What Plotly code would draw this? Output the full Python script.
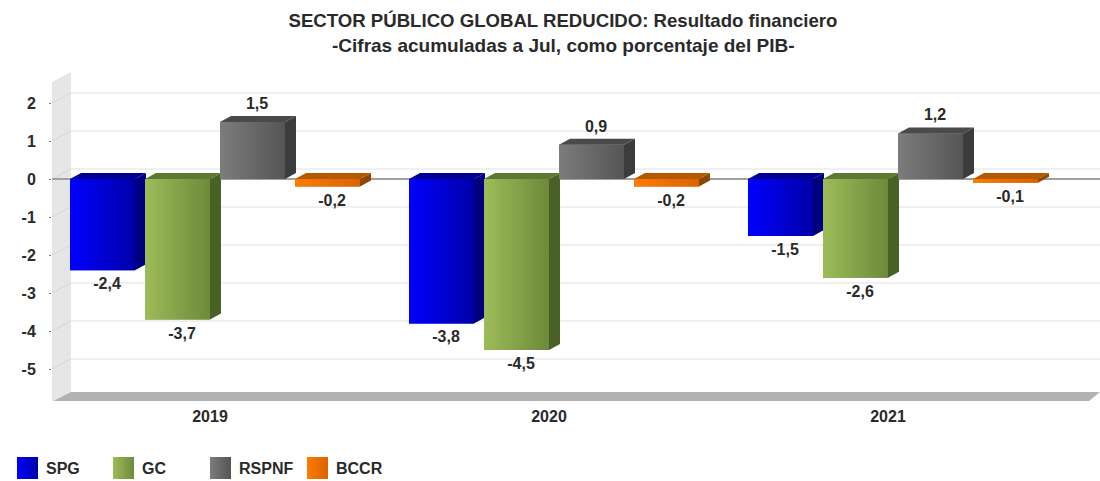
import plotly.graph_objects as go

years = ["2019", "2020", "2021"]
SPG = [-2.4, -3.8, -1.5]
GC = [-3.7, -4.5, -2.6]
RSPNF = [1.5, 0.9, 1.2]
BCCR = [-0.2, -0.2, -0.1]
y_ticks = [2, 1, 0, -1, -2, -3, -4, -5]
title_1 = "SECTOR PÚBLICO GLOBAL REDUCIDO: Resultado financiero"
title_2 = "-Cifras acumuladas a Jul, como porcentaje del PIB-"

series = [
    ("SPG", SPG, "#0000ff", "#0000a8", "#00007e", "#000094"),
    ("GC", GC, "#9dbc58", "#6c8a3a", "#4a6126", "#5c7831"),
    ("RSPNF", RSPNF, "#7c7c7c", "#555555", "#3c3c3c", "#4a4a4a"),
    ("BCCR", BCCR, "#ff7a00", "#d86400", "#8c4800", "#b65800"),
]

W, H = 1100, 481
PX_X = 339.0       # pixels per category
PX_Y = 38.0        # pixels per unit
X_ZERO = 215.0     # pixel of first group's centre
Y_ZERO = 179.0     # pixel of value 0
PLOT_L, PLOT_R, PLOT_T, PLOT_B = 52, 1100, 82, 401
SLOT, BAR = 75.0, 65.0
DX, DY = 11.0, 6.0
WALL_DX, WALL_DY = 18.0, 10.0
FONT = "Liberation Sans"
TEXT = "#2a2a2a"
SIZE_TITLE = 18.6
SIZE_SUBTITLE = 19
SIZE_TEXT = 16

fig = go.Figure()


def px_x(v):
    return X_ZERO + v * PX_X


def px_y(v):
    return Y_ZERO - v * PX_Y


# Decor layer (x/y are page pixels): wall, floor, grid, legend
def poly(xs, ys, color, xaxis="x", yaxis="y"):
    fig.add_trace(go.Scatter(
        x=xs + xs[:1], y=ys + ys[:1], xaxis=xaxis, yaxis=yaxis, mode="lines",
        line=dict(width=0), fill="toself", fillcolor=color,
        hoverinfo="skip", showlegend=False))


def gradient(xs, ys, left, right, xaxis, yaxis):
    fig.add_trace(go.Scatter(
        x=xs + xs[:1], y=ys + ys[:1], xaxis=xaxis, yaxis=yaxis, mode="lines",
        line=dict(width=0), fill="toself",
        fillgradient=dict(type="horizontal", colorscale=[[0, left], [1, right]]),
        hoverinfo="skip", showlegend=False))


poly([PLOT_L, PLOT_L + WALL_DX + 1, PLOT_L + WALL_DX + 1, PLOT_L],
     [PLOT_T, PLOT_T - 10, PLOT_B - 9, PLOT_B], "#e6e6e6")
poly([PLOT_L + 1, 1089, 1100, PLOT_L + WALL_DX + 1],
     [PLOT_B, PLOT_B, PLOT_B - 9, PLOT_B - 9], "#b2b2b2")

for t in y_ticks:
    yb = px_y(t) - WALL_DY
    fig.add_trace(go.Scatter(
        x=[PLOT_L, PLOT_L + WALL_DX + 1], y=[px_y(t), yb], mode="lines",
        line=dict(color="#d6d6d6", width=1), hoverinfo="skip", showlegend=False))
    fig.add_trace(go.Scatter(
        x=[PLOT_L + WALL_DX + 1, W], y=[yb, yb], mode="lines",
        line=dict(color="#f0f0f0", width=2), hoverinfo="skip", showlegend=False))

legend_swatch_x = [17, 113, 210, 307]
for (name, vals, left, right, side, top), sx in zip(series, legend_swatch_x):
    gradient([sx, sx + 21, sx + 21, sx], [457, 457, 479, 479], left, right, "x", "y")
    fig.add_annotation(
        x=sx + 27, y=468, xref="x", yref="y", text=f"<b>{name}</b>", showarrow=False,
        xanchor="left", yanchor="middle",
        font=dict(family=FONT, size=SIZE_TEXT, color=TEXT))

# Bars (x2/y2 are the chart's category and value axes)
xpos = list(range(len(years)))
for i, (name, vals, left, right, side, top) in enumerate(series):
    fig.add_trace(go.Bar(
        x=xpos, y=vals, name=name, xaxis="x2", yaxis="y2",
        marker=dict(color=right, line=dict(width=0))))

bw = BAR / PX_X
dx = DX / PX_X
dy = DY / PX_Y
for i, (name, vals, left, right, side, top) in enumerate(series):
    off = (-150 + 5 + i * SLOT) / PX_X
    for c, v in zip(xpos, vals):
        x0, x1 = c + off, c + off + bw
        hi, lo = max(v, 0), min(v, 0)
        gradient([x0, x1, x1, x0], [hi, hi, lo, lo], left, right, "x2", "y2")
        poly([x1, x1 + dx, x1 + dx, x1], [hi, hi + dy, lo + dy, lo], side, "x2", "y2")
        poly([x0, x0 + dx, x1 + dx, x1], [hi, hi + dy, hi + dy, hi], top, "x2", "y2")

for i, (name, vals, left, right, side, top) in enumerate(series):
    off = (-150 + 5 + i * SLOT + BAR / 2 + 4.5) / PX_X
    fig.add_trace(go.Scatter(
        x=[c + off for c in xpos],
        y=[v + (9 if v > 0 else -7) / PX_Y for v in vals],
        xaxis="x2", yaxis="y2", mode="text",
        text=[f"{v:.1f}".replace(".", ",") for v in vals],
        textposition=["top center" if v > 0 else "bottom center" for v in vals],
        textfont=dict(family=FONT, size=SIZE_TEXT, color=TEXT, weight="bold"),
        cliponaxis=False, hoverinfo="skip", showlegend=False))

fig.add_annotation(
    x=563, y=45, xref="x", yref="y", text=f"<b>{title_2}</b>", showarrow=False,
    xanchor="center", yanchor="middle", font=dict(family=FONT, size=SIZE_SUBTITLE, color=TEXT))

tick_font = dict(family=FONT, size=SIZE_TEXT, color=TEXT, weight="bold")
fig.update_layout(
    width=W, height=H, autosize=False,
    margin=dict(l=0, r=0, t=0, b=0),
    paper_bgcolor="white", plot_bgcolor="rgba(0,0,0,0)",
    showlegend=False, barmode="group",
    bargap=1 - 300 / PX_X, bargroupgap=1 - BAR / SLOT,
    title=dict(text=f"<b>{title_1}</b>", x=563 / W, xanchor="center",
               y=1 - 20 / H, yanchor="middle",
               font=dict(family=FONT, size=SIZE_TITLE, color=TEXT)),
    xaxis=dict(domain=[0, 1], range=[0, W], visible=False, fixedrange=True),
    yaxis=dict(domain=[0, 1], range=[H, 0], visible=False, fixedrange=True),
    xaxis2=dict(
        domain=[PLOT_L / W, PLOT_R / W], anchor="y2",
        range=[(PLOT_L - X_ZERO) / PX_X, (PLOT_R - X_ZERO) / PX_X],
        tickmode="array", tickvals=[c - 5 / PX_X for c in xpos], ticktext=years,
        ticklen=0, showgrid=False, zeroline=False, showline=False,
        tickfont=tick_font, ticklabelstandoff=4),
    yaxis2=dict(
        domain=[1 - PLOT_B / H, 1 - PLOT_T / H], anchor="x2",
        range=[(Y_ZERO - PLOT_B) / PX_Y, (Y_ZERO - PLOT_T) / PX_Y],
        tickmode="array", tickvals=y_ticks, ticktext=[str(t) for t in y_ticks],
        ticks="outside", ticklen=2,
        tickcolor="#777777", showgrid=False, zeroline=True, zerolinecolor="#a0a0a0",
        zerolinewidth=1.5, showline=False, tickfont=tick_font, ticklabelstandoff=10),
)

fig.write_html(
    "out.html",
    config={"displayModeBar": False},
    post_script="document.body.style.margin='0';document.body.style.overflow='hidden';")
